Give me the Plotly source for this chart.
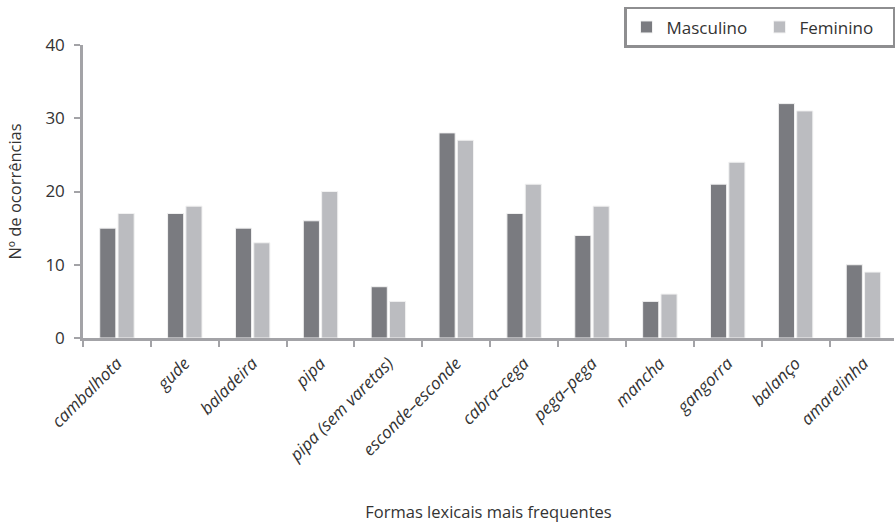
import plotly.graph_objects as go

# Formas lexicais e número de ocorrências por sexo
categorias = ["cambalhota", "gude", "baladeira", "pipa", "pipa (sem varetas)",
              "esconde–esconde", "cabra–cega", "pega–pega", "mancha", "gangorra",
              "balanço", "amarelinha"]
masculino = [15, 17, 15, 16, 7, 28, 17, 14, 5, 21, 32, 10]
feminino = [17, 18, 13, 20, 5, 27, 21, 18, 6, 24, 31, 9]
y_ticks = [0, 10, 20, 30, 40]

COR_M = "#7a7b80"
COR_F = "#bbbcc0"
COR_EIXO = "#a3a3a7"
COR_TEXTO = "#333333"
FONTE = "Open Sans"

fig = go.Figure()
fig.add_trace(go.Bar(name="Masculino", x=categorias, y=masculino,
                     marker=dict(color=COR_M, line=dict(color="#f2f2f2", width=1))))
fig.add_trace(go.Bar(name="Feminino", x=categorias, y=feminino,
                     marker=dict(color=COR_F, line=dict(color="#f2f2f2", width=1))))

fig.update_layout(
    width=895, height=524,
    margin=dict(l=83, r=0, t=45, b=186),
    paper_bgcolor="white", plot_bgcolor="white",
    barmode="group", bargap=0.46, bargroupgap=0.12,
    font=dict(family=FONTE, size=16, color=COR_TEXTO),
    legend=dict(orientation="h", x=0.667, xanchor="left", y=1.13, yanchor="top",
                bordercolor="#8e8e90", borderwidth=2.5, bgcolor="white",
                font=dict(family=FONTE, size=17, color=COR_TEXTO),
                itemwidth=30, entrywidth=88, traceorder="normal"),
    xaxis=dict(
        type="category", range=[-0.5, 11.45],
        showline=True, linecolor=COR_EIXO, linewidth=2.5,
        ticks="outside", tickson="boundaries", ticklen=6, tickcolor=COR_EIXO, tickwidth=2,
        tickangle=-45, ticklabelstandoff=6,
        tickfont=dict(family=FONTE, size=17, color=COR_TEXTO, style="italic"),
        showgrid=False, zeroline=False,
        title=dict(text="Formas lexicais mais frequentes", standoff=42,
                   font=dict(family=FONTE, size=16.5, color=COR_TEXTO)),
    ),
    yaxis=dict(
        range=[0, 40], tickvals=y_ticks,
        showline=True, linecolor=COR_EIXO, linewidth=2.5,
        ticks="outside", ticklen=6, tickcolor=COR_EIXO, tickwidth=2,
        ticklabelstandoff=6,
        showgrid=False, zeroline=False,
        tickfont=dict(family=FONTE, size=17, color=COR_TEXTO),
        title=dict(text="Nº de ocorrências", standoff=20,
                   font=dict(family=FONTE, size=16.5, color=COR_TEXTO)),
    ),
)

fig.write_html("out.html")
